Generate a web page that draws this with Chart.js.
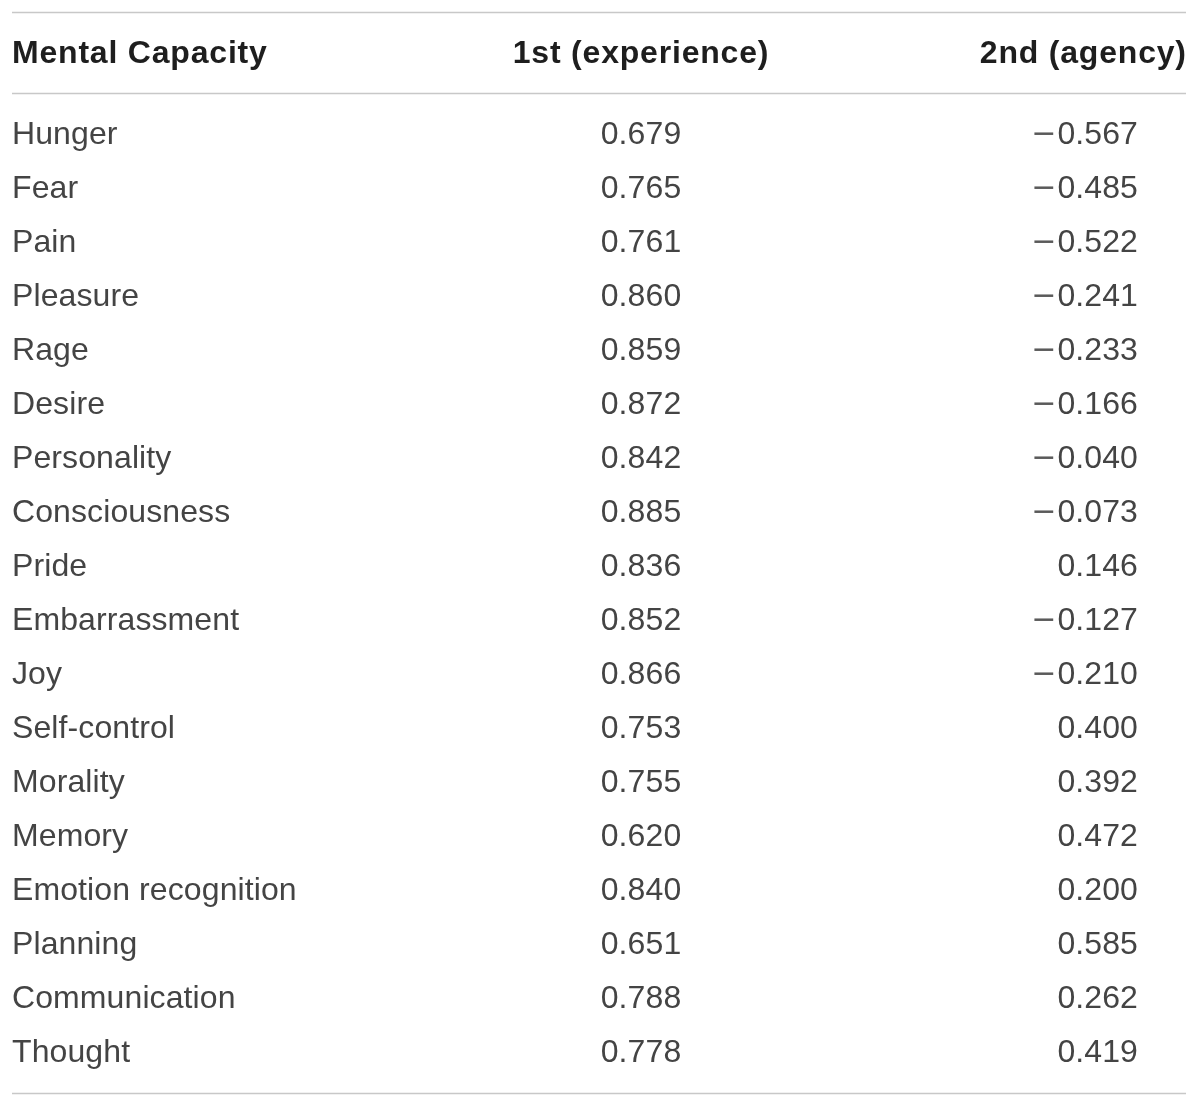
<!DOCTYPE html>
<html>
<head>
<meta charset="utf-8">
<script src="https://cdn.jsdelivr.net/npm/chart.js@4/dist/chart.umd.min.js"></script>
<style>
  html, body { margin: 0; padding: 0; background: #fff; }
  #tableChart { display: block; }
</style>
</head>
<body>
<canvas id="tableChart" width="1200" height="1107"></canvas>
<script>
// table data
const headers = ['Mental Capacity', '1st (experience)', '2nd (agency)'];
const capacities = ['Hunger', 'Fear', 'Pain', 'Pleasure', 'Rage', 'Desire', 'Personality',
  'Consciousness', 'Pride', 'Embarrassment', 'Joy', 'Self-control', 'Morality', 'Memory',
  'Emotion recognition', 'Planning', 'Communication', 'Thought'];
const experience = [0.679, 0.765, 0.761, 0.860, 0.859, 0.872, 0.842, 0.885, 0.836,
  0.852, 0.866, 0.753, 0.755, 0.620, 0.840, 0.651, 0.788, 0.778];
const agency = [-0.567, -0.485, -0.522, -0.241, -0.233, -0.166, -0.040, -0.073, 0.146,
  -0.127, -0.210, 0.400, 0.392, 0.472, 0.200, 0.585, 0.262, 0.419];

// layout (x in canvas units, y in row units)
const colX = [12, 641, 1138];
const headerX = [12, 641, 1186];
const headerAlign = ['left', 'center', 'right'];
const cellAlign = ['left', 'center', 'right'];
const headerRow = -1.5;
const rules = [-2.24, -0.74, 17.78];

function fmt(v) {
  let s = Math.abs(v).toFixed(3);
  return v < 0 ? '\u2212' + s : s;
}

let cols = [
  capacities.map((c, i) => ({ x: colX[0], y: i, text: c })),
  experience.map((v, i) => ({ x: colX[1], y: i, text: fmt(v) })),
  agency.map((v, i) => ({ x: colX[2], y: i, text: fmt(v) }))
];

const tablePlugin = {
  id: 'tableText',
  afterDatasetsDraw(chart) {
    let ctx = chart.ctx;
    let xs = chart.scales.x, ys = chart.scales.y;
    ctx.save();
    // rules
    ctx.strokeStyle = '#c8c8c8';
    ctx.lineWidth = 1.5;
    rules.forEach(r => {
      let y = Math.round(ys.getPixelForValue(r)) + 0.5;
      ctx.beginPath();
      ctx.moveTo(xs.getPixelForValue(12), y);
      ctx.lineTo(xs.getPixelForValue(1186), y);
      ctx.stroke();
    });
    // header
    ctx.textBaseline = 'middle';
    ctx.font = 'bold 32px "Liberation Sans", Arial, sans-serif';
    ctx.letterSpacing = '0.8px';
    ctx.fillStyle = '#1e1e1e';
    headers.forEach((h, i) => {
      ctx.textAlign = headerAlign[i];
      let x = xs.getPixelForValue(headerX[i]);
      if (headerAlign[i] === 'right') x += 0.8;
      ctx.fillText(h, x, ys.getPixelForValue(headerRow) + 2);
    });
    // cells
    let bodyFont = '32px "Liberation Sans", Arial, sans-serif';
    ctx.letterSpacing = '0.1px';
    chart.data.datasets.forEach((ds, di) => {
      let meta = chart.getDatasetMeta(di);
      meta.data.forEach((pt, j) => {
        let t = ds.data[j].text;
        ctx.font = bodyFont;
        ctx.fillStyle = '#444444';
        ctx.textAlign = cellAlign[di];
        if (t[0] === '\u2212') {
          // long thin minus sign in front of the number
          let num = t.slice(1);
          ctx.fillText(num, pt.x, pt.y + 2);
          let w = ctx.measureText(num).width;
          let left = cellAlign[di] === 'right' ? pt.x - w : pt.x - w / 2;
          ctx.font = '30px "DejaVu Sans", sans-serif';
          ctx.fillStyle = '#5a5a5a';
          ctx.textAlign = 'right';
          ctx.fillText('\u2212', left - 1, pt.y + 2);
        } else {
          ctx.fillText(t, pt.x, pt.y + 2);
        }
      });
    });
    ctx.restore();
  }
};

new Chart(document.getElementById('tableChart').getContext('2d'), {
  type: 'scatter',
  data: {
    datasets: cols.map(c => ({ data: c, pointRadius: 0, pointHoverRadius: 0 }))
  },
  options: {
    responsive: false,
    animation: false,
    devicePixelRatio: 1,
    layout: { padding: 0 },
    plugins: { legend: { display: false }, tooltip: { enabled: false } },
    scales: {
      x: { type: 'linear', display: false, min: 0, max: 1200 },
      y: { type: 'linear', display: false, reverse: true, min: -133 / 54, max: (1107 - 133) / 54 }
    }
  },
  plugins: [tablePlugin]
});
</script>
</body>
</html>
